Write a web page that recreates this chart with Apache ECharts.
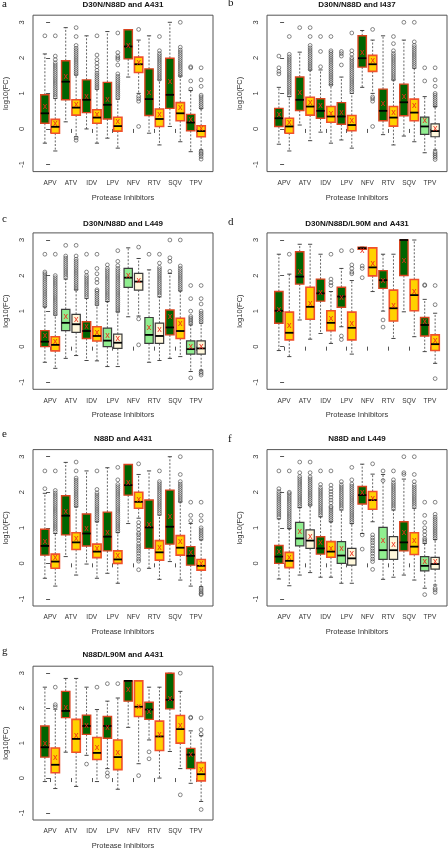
<!DOCTYPE html>
<html><head><meta charset="utf-8">
<script src="https://cdn.jsdelivr.net/npm/echarts@6/dist/echarts.min.js"></script>
<style>html,body{margin:0;padding:0;background:#fff}#c{width:448px;height:851px}</style>
</head><body><div id="c"></div><script>
const categories = ['APV','ATV','IDV','LPV','NFV','RTV','SQV','TPV'];
const yTicks = [-1,0,1,2,3];
const panelTitles = ['D30N/N88D and A431','D30N/N88D and I437','D30N/N88D and L449','D30N/N88D/L90M and A431','N88D and A431','N88D and L449','N88D/L90M and A431'];
const panelLetters = ['a','b','c','d','e','f','g'];

// box stats per box: [whiskerLow, Q1, median, Q3, whiskerHigh, mean]; two boxes per category
const aStats = [
 [-0.40,0.16,0.44,0.96,2.11,0.63],[-0.62,-0.12,0.06,0.27,0.86,0.14],
 [0.20,0.82,1.33,1.92,2.85,1.45],[-0.22,0.39,0.60,0.82,1.52,0.68],
 [0.00,0.46,0.82,1.38,2.62,0.91],[-0.40,0.16,0.32,0.54,1.12,0.39],
 [-0.26,0.28,0.68,1.31,2.74,0.82],[-0.54,-0.06,0.08,0.33,0.84,0.19],
 [1.46,1.97,2.32,2.79,2.79,2.32],[1.00,1.59,1.82,2.02,2.50,1.85],
 [-0.12,0.38,0.84,1.69,2.62,1.00],[-0.45,0.07,0.28,0.56,1.38,0.40],
 [0.07,0.58,0.96,1.99,3.00,1.31],[-0.36,0.23,0.44,0.74,1.49,0.58],
 [-0.64,-0.05,0.18,0.41,1.08,0.25],[-0.59,-0.22,-0.06,0.09,0.58,-0.01]];
const bStats = [
 [-0.43,0.07,0.30,0.58,1.17,0.39],[-0.62,-0.12,0.07,0.30,0.91,0.16],
 [0.11,0.52,0.82,1.46,2.16,1.00],[-0.33,0.39,0.63,0.89,1.66,0.72],
 [-0.09,0.30,0.51,0.85,1.66,0.65],[-0.40,0.19,0.35,0.63,1.24,0.42],
 [-0.31,0.13,0.35,0.74,1.46,0.46],[-0.54,-0.05,0.11,0.38,1.00,0.23],
 [1.17,1.74,1.99,2.62,2.77,2.13],[1.00,1.62,1.82,2.07,2.50,1.90],
 [-0.16,0.23,0.51,1.12,2.62,0.70],[-0.45,0.08,0.32,0.63,1.38,0.44],
 [-0.20,0.37,0.75,1.26,2.50,0.91],[-0.36,0.23,0.46,0.84,1.71,0.65],
 [-0.67,-0.15,0.07,0.33,0.91,0.21],[-0.59,-0.22,-0.06,0.14,0.63,-0.01]];
const cStats = [
 [-0.44,0.00,0.14,0.45,1.12,0.30],[-0.61,-0.12,0.05,0.28,0.89,0.14],
 [-0.33,0.45,0.67,1.05,1.90,0.84],[-0.25,0.40,0.63,0.91,1.60,0.75],
 [-0.39,0.23,0.44,0.70,1.36,0.54],[-0.40,0.16,0.30,0.56,1.17,0.39],
 [-0.56,0.00,0.17,0.52,1.27,0.30],[-0.56,-0.05,0.11,0.35,0.98,0.21],
 [0.84,1.67,1.94,2.20,2.78,2.00],[0.86,1.59,1.83,2.06,2.48,1.85],
 [-0.44,0.09,0.33,0.82,2.16,0.52],[-0.39,0.09,0.30,0.66,1.40,0.47],
 [-0.33,0.33,0.54,1.03,2.06,0.82],[-0.28,0.23,0.44,0.80,1.57,0.63],
 [-0.70,-0.21,-0.07,0.16,0.61,0.00],[-0.66,-0.21,-0.05,0.16,0.66,0.00]];
const dStats = [
 [-0.11,0.66,1.01,1.55,2.60,1.03],[-0.28,0.19,0.39,0.97,2.04,0.59],
 [0.75,1.76,1.97,2.67,2.88,2.09],[0.21,0.77,1.12,1.67,2.88,1.20],
 [0.37,1.28,1.50,1.90,2.60,1.50],[0.09,0.45,0.67,1.01,1.55,0.77],
 [0.56,1.11,1.41,1.67,2.20,1.36],[-0.21,0.19,0.53,0.97,1.86,0.64],
 [2.74,2.74,2.77,2.80,2.80,2.70],[1.55,1.99,2.23,2.78,2.78,2.32],
 [1.00,1.64,1.87,2.14,2.60,1.85],[0.23,0.72,1.08,1.59,2.60,1.15],
 [0.98,2.00,3.00,3.00,3.00,2.41],[0.28,1.01,1.45,1.89,3.00,1.53],
 [-0.14,0.30,0.61,0.82,1.33,0.70],[-0.47,-0.11,0.07,0.33,0.94,0.16]];
const eStats = [
 [-0.42,0.23,0.49,0.96,1.97,0.61],[-0.64,-0.14,0.05,0.26,0.84,0.16],
 [0.19,0.80,1.34,1.90,2.84,1.43],[-0.33,0.39,0.59,0.86,1.59,0.68],
 [-0.02,0.49,0.84,1.39,2.60,0.96],[-0.42,0.16,0.33,0.54,1.17,0.40],
 [-0.28,0.35,0.75,1.44,2.69,0.86],[-0.56,0.00,0.11,0.35,0.87,0.21],
 [1.12,1.92,2.20,2.78,2.78,2.25],[1.27,1.55,1.73,2.00,2.50,1.78],
 [-0.14,0.42,1.01,1.78,2.60,1.08],[-0.45,0.09,0.31,0.64,1.36,0.44],
 [0.05,0.54,1.03,2.06,3.00,1.31],[-0.47,0.23,0.44,0.78,1.73,0.61],
 [-0.64,-0.05,0.21,0.47,1.12,0.28],[-0.66,-0.19,-0.07,0.11,0.66,-0.03]];
const fStats = [
 [-0.44,0.00,0.19,0.50,1.25,0.31],[-0.63,-0.12,0.07,0.31,0.98,0.16],
 [-0.33,0.49,0.70,1.15,1.57,0.89],[-0.26,0.42,0.64,0.94,1.64,0.75],
 [-0.39,0.26,0.42,0.75,1.31,0.58],[-0.39,0.17,0.33,0.61,1.17,0.40],
 [-0.56,0.00,0.22,0.61,1.50,0.39],[-0.56,-0.05,0.14,0.42,1.12,0.26],
 [0.84,1.67,1.92,2.16,2.79,1.97],[1.17,1.52,1.78,2.02,2.51,1.81],
 [-0.45,0.11,0.37,1.01,2.50,0.64],[-0.39,0.11,0.37,0.75,1.50,0.52],
 [-0.33,0.35,0.59,1.17,2.37,0.84],[-0.47,0.25,0.47,0.86,1.55,0.64],
 [-0.70,-0.21,-0.07,0.19,0.56,0.03],[-0.61,-0.16,-0.02,0.17,0.67,0.03]];
const gStats = [
 [-0.10,0.60,0.88,1.49,2.60,0.98],[-0.30,0.15,0.38,0.86,1.97,0.57],
 [0.74,1.73,1.92,2.48,2.85,1.99],[-0.24,0.74,1.12,1.68,2.85,1.19],
 [0.65,1.25,1.49,1.80,2.60,1.49],[-0.10,0.53,0.72,1.16,1.96,0.85],
 [0.27,1.14,1.49,1.76,2.20,1.42],[-0.32,0.24,0.60,1.09,2.29,0.71],
 [1.45,2.20,2.78,2.78,2.78,2.51],[0.41,1.76,2.04,2.78,2.78,2.03],
 [1.09,1.68,1.96,2.17,2.60,1.89],[0.00,0.79,1.19,1.63,2.60,1.23],
 [0.76,1.98,2.24,3.00,3.00,2.26],[0.27,1.00,1.40,1.79,2.48,1.49],
 [-0.15,0.27,0.67,0.85,1.35,0.67],[-0.67,-0.08,0.11,0.44,1.21,0.23]];

// outliers per box
const aOut = [
 [2.62],
 [0.9,0.96,1.02,1.08,1.14,1.2,1.26,1.32,1.38,1.44,1.5,1.56,1.62,1.68,1.74,1.8,1.86,1.95,2.05,2.62],
 [],
 [-0.25,-0.32,1.55,1.61,1.67,1.73,1.79,1.85,1.91,1.97,2.03,2.09,2.15,2.21,2.27,2.35,2.6,2.85],
 [],
 [1.15,1.21,1.27,1.33,1.39,1.45,1.51,1.57,1.65,1.75,1.85,1.95,2.08,2.62],
 [],
 [0.88,0.94,1.0,1.06,1.12,1.18,1.24,1.3,1.36,1.42,1.48,1.55,1.8,1.95,2.0,2.05,2.15,2.7],
 [],
 [2.8,0.92,0.85,0.78,0.07],
 [],
 [1.4,1.46,1.52,1.58,1.64,1.7,1.76,1.82,1.88,1.94,2.0,2.06,2.12,2.2,2.6],
 [],
 [1.5,1.56,1.62,1.68,1.74,1.8,1.86,1.92,1.98,2.04,2.1,2.16,2.22,2.3,3.0],
 [1.12,1.35,1.72,1.75],
 [0.6,0.66,0.72,0.78,0.84,0.9,0.95,1.2,1.38,1.72,-0.63,-0.68,-0.72,-0.78,-0.85]];
const bOut = [
 [1.55,1.62,1.72,2.05],
 [0.95,1.01,1.07,1.13,1.19,1.25,1.31,1.37,1.43,1.49,1.55,1.61,1.67,1.73,1.79,1.85,1.91,1.97,2.03,2.1,2.6],
 [2.85],
 [1.68,1.74,1.8,1.86,1.92,1.98,2.04,2.1,2.16,2.22,2.28,2.35,2.6,2.85],
 [1.75,2.18,2.6],
 [1.25,1.31,1.37,1.43,1.49,1.55,1.61,1.67,1.73,1.79,1.85,1.91,1.97,2.03,2.09,2.15,2.2,2.6],
 [1.8,2.05,2.12,2.18],
 [1.05,1.11,1.17,1.23,1.29,1.35,1.41,1.47,1.53,1.59,1.65,1.71,1.77,1.83,1.89,1.95,2.0,2.1,2.2,2.7],
 [],
 [2.8,0.9,0.85,0.78,0.07],
 [],
 [1.4,1.46,1.52,1.58,1.64,1.7,1.76,1.82,1.88,1.94,2.0,2.06,2.12,2.2,2.4,2.6],
 [3.0],
 [1.75,1.81,1.87,1.93,1.99,2.05,2.11,2.17,2.23,2.29,2.35,2.45,3.0],
 [1.35,1.72],
 [0.65,0.71,0.77,0.83,0.89,0.95,1.0,1.2,1.38,1.72,-0.65,-0.7,-0.75,-0.8,-0.86]];
const cOut = [
 [1.15,1.21,1.27,1.33,1.39,1.45,1.51,1.57,1.63,1.69,1.75,1.81,1.87,1.93,1.99,2.05,2.1,2.6],
 [0.92,0.98,1.04,1.1,1.16,1.22,1.28,1.34,1.4,1.46,1.52,1.58,1.64,1.7,1.76,1.82,1.88,1.94,2.0,2.6],
 [1.95,2.01,2.07,2.13,2.19,2.25,2.31,2.37,2.43,2.49,2.55,2.85],
 [1.62,1.68,1.74,1.8,1.86,1.92,1.98,2.04,2.1,2.16,2.22,2.28,2.34,2.4,2.46,2.55,2.85],
 [1.4,1.46,1.52,1.58,1.64,1.7,1.76,1.82,1.88,1.94,2.0,2.1,2.6],
 [1.2,1.26,1.32,1.38,1.44,1.5,1.56,1.6,1.8,1.9,2.05,2.2,2.6],
 [1.3,1.36,1.42,1.48,1.54,1.6,1.66,1.72,1.78,1.84,1.9,1.96,2.02,2.08,2.14,2.2,2.3],
 [1.0,1.06,1.12,1.18,1.24,1.3,1.36,1.42,1.48,1.54,1.6,1.66,1.72,1.78,1.84,1.9,1.96,2.02,2.08,2.14,2.2,2.28,2.4,2.7],
 [],
 [2.8,0.78,0.05],
 [2.6],
 [1.45,1.51,1.57,1.63,1.69,1.75,1.81,1.87,1.93,1.99,2.05,2.11,2.17,2.23,2.35,2.6],
 [2.12,2.4,2.5,3.0],
 [1.6,1.66,1.72,1.78,1.84,1.9,1.96,2.02,2.08,2.14,2.2,2.27,3.0],
 [0.65,0.7,0.75,0.8,0.85,1.0,1.35,1.72,-0.88],
 [0.7,0.76,0.82,0.88,0.94,1.0,1.2,1.35,1.72,-0.7,-0.75,-0.8]];
const dOut = [[],[2.6],[],[],[],[1.72,1.8,1.9,2.6],[2.7,0.3,0.2],[2.05,2.1,2.2,2.3,2.7],
 [2.27,2.2,1.94],[],[0.75,0.55],[],[],[],[1.72,1.74],[1.18,1.72,-0.9]];
const eOut = [
 [2.1,2.6],
 [0.9,0.96,1.02,1.08,1.14,1.2,1.26,1.32,1.38,1.44,1.5,1.56,1.62,1.68,1.74,1.8,1.86,1.92,1.98,2.05,2.6],
 [],
 [1.62,1.68,1.74,1.8,1.86,1.92,1.98,2.04,2.1,2.16,2.22,2.28,2.34,2.4,2.6,2.85],
 [],
 [1.2,1.26,1.32,1.38,1.44,1.5,1.56,1.62,1.68,1.74,1.8,1.86,1.92,1.98,2.08,2.6],
 [],
 [0.9,0.96,1.02,1.08,1.14,1.2,1.26,1.32,1.38,1.44,1.5,1.56,1.62,1.68,1.74,1.8,1.86,1.92,1.98,2.04,2.1,2.16,2.22,2.35,2.7],
 [],
 [2.8,1.15,1.05,0.95,0.85,0.8,0.72,0.65,0.55,0.48,0.42,0.35,0.28,0.2,0.12,0.06,-0.18],
 [],
 [1.4,1.46,1.52,1.58,1.64,1.7,1.76,1.82,1.88,1.94,2.0,2.06,2.12,2.18,2.24,2.3,2.6],
 [],
 [1.75,1.81,1.87,1.93,1.99,2.05,2.11,2.17,2.23,2.3,2.5,3.0],
 [1.2,1.35,1.72],
 [0.7,0.76,0.82,0.88,0.94,1.0,1.2,1.35,1.72,-0.7,-0.75,-0.8,-0.85,-0.88]];
const fOut = [
 [1.3,1.36,1.42,1.48,1.54,1.6,1.66,1.72,1.78,1.84,1.9,1.96,2.02,2.1,2.6],
 [1.0,1.06,1.12,1.18,1.24,1.3,1.36,1.42,1.48,1.54,1.6,1.66,1.72,1.78,1.84,1.9,1.96,2.0,2.6],
 [1.6,1.66,1.72,1.78,1.84,1.9,1.96,2.02,2.08,2.14,2.2,2.26,2.32,2.38,2.44,2.55,2.85],
 [1.65,1.71,1.77,1.83,1.89,1.95,2.01,2.07,2.13,2.19,2.25,2.31,2.37,2.43,2.55,2.85],
 [1.35,1.41,1.47,1.53,1.59,1.65,1.71,1.77,1.83,1.89,1.95,2.01,2.07,2.13,2.22,2.6],
 [1.2,1.26,1.32,1.38,1.44,1.5,1.56,1.6,1.7,1.78,1.86,1.94,2.02,2.1,2.2,2.6],
 [1.55,1.61,1.67,1.73,1.79,1.85,1.91,1.97,2.03,2.09,2.15,2.21,2.3],
 [1.15,1.21,1.27,1.33,1.39,1.45,1.51,1.57,1.63,1.69,1.75,1.81,1.87,1.93,1.99,2.05,2.11,2.17,2.23,2.35,2.7],
 [0.8,0.4],
 [2.8,0.8,0.72,0.65,0.58,0.5,0.42,0.35,0.28,0.2,0.12,0.05,-0.17],
 [2.33,2.6],
 [1.55,1.61,1.67,1.73,1.79,1.85,1.91,1.97,2.03,2.09,2.15,2.21,2.27,2.35,2.6],
 [2.5,2.55,3.0],
 [1.6,1.66,1.72,1.78,1.84,1.9,1.96,2.02,2.08,2.14,2.2,2.3,2.5,3.0],
 [0.6,0.65,0.7,0.8,0.9,1.0,1.15,1.35,1.72,-0.88],
 [0.7,0.76,0.82,0.88,0.94,1.0,1.06,1.12,1.18,1.24,1.3,1.38,1.72,-0.7,-0.75,-0.82]];
const gOut = [[],[2.04,2.1,2.6],[],[],[0.4],[2.6],[2.7,0.15,0.05],[2.7],
 [],[0.07],[0.75,0.55],[],[],[3.0,-0.48],[1.72,1.74],[1.25,1.38,1.72,-0.9]];

// box colour scheme per box: 0 dark green, 1 gold, 2 light green, 3 cornsilk
const aColors = [0,1,0,1,0,1,0,1,0,1,0,1,0,1,0,1];
const bColors = [0,1,0,1,0,1,0,1,0,1,0,1,0,1,2,3];
const cColors = [0,1,2,3,0,1,2,3,2,3,2,3,0,1,2,3];
const dColors = [0,1,0,1,0,1,0,1,0,1,0,1,0,1,0,1];
const eColors = [0,1,0,1,0,1,0,1,0,1,0,1,0,1,0,1];
const fColors = [0,1,2,3,0,1,2,3,0,1,2,3,0,1,2,3];
const gColors = [0,1,0,1,0,1,0,1,0,1,0,1,0,1,0,1];

const panels = [
 {stats:aStats,out:aOut,colors:aColors},{stats:bStats,out:bOut,colors:bColors},
 {stats:cStats,out:cOut,colors:cColors},{stats:dStats,out:dOut,colors:dColors},
 {stats:eStats,out:eOut,colors:eColors},{stats:fStats,out:fOut,colors:fColors},
 {stats:gStats,out:gOut,colors:gColors}];

const STYLES = [
 {fill:'#006400', stroke:'#d9441f', lw:1.4},
 {fill:'#ffd200', stroke:'#f0502a', lw:1.6},
 {fill:'#90ee90', stroke:'#3c3c3c', lw:1.2},
 {fill:'#fff8dc', stroke:'#3c3c3c', lw:1.2}];

const FONT = 'Liberation Sans';
const rowTops = [15.2, 232.9, 449.6, 666.2];
const colLefts = [33, 267];
const GW = 180, GH = 156.4;
const titleTops = [0.5, 220, 434.5, 650.5];
const letterTops = [[-1,-2],[214,217],[429,434],[646,0]];

const grids = [], xAxes = [], yAxes = [], series = [], titles = [];
panels.forEach((p, i) => {
  const row = Math.floor(i / 2), col = i % 2;
  grids.push({left: colLefts[col], top: rowTops[row], width: GW, height: GH,
    show: true, borderColor: '#555', borderWidth: 1, backgroundColor: 'transparent'});
  xAxes.push({type: 'value', gridIndex: i, min: -0.82, max: 7.82,
    axisLine: {show: false}, splitLine: {show: false},
    axisTick: {show: true, customValues: [0,1,2,3,4,5,6,7], length: 4, lineStyle: {color: '#555'}},
    axisLabel: {show: true, customValues: [0,1,2,3,4,5,6,7], formatter: v => categories[Math.round(v)],
      fontSize: 6.5, color: '#333', fontFamily: FONT, margin: 8},
    name: 'Protease Inhibitors', nameLocation: 'middle', nameGap: 22,
    nameTextStyle: {fontSize: 7.5, color: '#333', fontFamily: FONT}});
  yAxes.push({type: 'value', gridIndex: i, min: -1.2, max: 3.2,
    axisLine: {show: false}, splitLine: {show: false},
    axisTick: {show: true, customValues: yTicks, length: 4, lineStyle: {color: '#555'}},
    axisLabel: {show: true, customValues: yTicks, rotate: 90, fontSize: 7.5, color: '#333', fontFamily: FONT, margin: 7},
    name: 'log10(FC)', nameLocation: 'middle', nameGap: 23, nameRotate: 90,
    nameTextStyle: {fontSize: 7.5, color: '#333', fontFamily: FONT}});
  const boxData = p.stats.map((s, j) => {
    const x = Math.floor(j / 2) + (j % 2 === 0 ? -0.25 : 0.25);
    return [x, s[0], s[1], s[2], s[3], s[4], s[5], p.colors[j]];
  });
  series.push({type: 'custom', xAxisIndex: i, yAxisIndex: i, silent: true, animation: false,
    encode: {x: 0, y: [1,2,3,4,5,6]}, data: boxData, clip: false,
    renderItem: (params, api) => {
      const x = api.value(0);
      const lo = api.value(1), q1 = api.value(2), md = api.value(3), q3 = api.value(4), hi = api.value(5), mean = api.value(6);
      const st = STYLES[api.value(7)];
      const bw = 0.4, cw = 0.2;
      const P = (a, b) => api.coord([a, b]);
      const wStyle = {stroke: '#555', lineWidth: 0.9, lineDash: [2, 1.6]};
      const cStyle = {stroke: '#333', lineWidth: 0.9};
      const a1 = P(x, q3), a2 = P(x, hi), b1 = P(x, q1), b2 = P(x, lo);
      const ch1 = P(x - cw/2, hi), ch2 = P(x + cw/2, hi), cl1 = P(x - cw/2, lo), cl2 = P(x + cw/2, lo);
      const tl = P(x - bw/2, q3), br = P(x + bw/2, q1);
      const m1 = P(x - bw/2, md), m2 = P(x + bw/2, md);
      const mp = P(x, mean);
      return {type: 'group', children: [
        {type: 'line', shape: {x1: a1[0], y1: a1[1], x2: a2[0], y2: a2[1]}, style: wStyle},
        {type: 'line', shape: {x1: b1[0], y1: b1[1], x2: b2[0], y2: b2[1]}, style: wStyle},
        {type: 'line', shape: {x1: ch1[0], y1: ch1[1], x2: ch2[0], y2: ch2[1]}, style: cStyle},
        {type: 'line', shape: {x1: cl1[0], y1: cl1[1], x2: cl2[0], y2: cl2[1]}, style: cStyle},
        {type: 'rect', shape: {x: tl[0], y: tl[1], width: br[0] - tl[0], height: br[1] - tl[1]},
          style: {fill: st.fill, stroke: st.stroke, lineWidth: st.lw}},
        {type: 'line', shape: {x1: m1[0], y1: m1[1], x2: m2[0], y2: m2[1]}, style: {stroke: '#000', lineWidth: 1.8}},
        {type: 'text', style: {text: 'x', x: mp[0], y: mp[1] - 0.5, align: 'center', verticalAlign: 'middle',
          fill: '#ee2a1a', fontSize: 9, fontFamily: FONT}}
      ]};
    }});
  const outData = [];
  p.out.forEach((arr, j) => {
    const x = Math.floor(j / 2) + (j % 2 === 0 ? -0.25 : 0.25);
    arr.forEach(v => outData.push([x, v]));
  });
  series.push({type: 'scatter', xAxisIndex: i, yAxisIndex: i, silent: true, animation: false,
    symbol: 'circle', symbolSize: 3.8, data: outData,
    itemStyle: {color: 'rgba(255,255,255,0)', borderColor: '#3a3a3a', borderWidth: 0.75}});
  titles.push({text: panelTitles[i], left: colLefts[col] + GW / 2, top: titleTops[row], textAlign: 'center', padding: 0,
    textStyle: {fontSize: 8, fontWeight: 'bold', color: '#111', fontFamily: FONT}});
  titles.push({text: panelLetters[i], left: col === 0 ? 2 : 228, top: letterTops[row][col], padding: 0,
    textStyle: {fontSize: 11, fontWeight: 'normal', color: '#111', fontFamily: 'Liberation Serif'}});
});

const chart = echarts.init(document.getElementById('c'), null, {renderer: 'canvas'});
chart.setOption({animation: false, backgroundColor: '#fff', title: titles, grid: grids,
  xAxis: xAxes, yAxis: yAxes, series: series});
</script></body></html>
